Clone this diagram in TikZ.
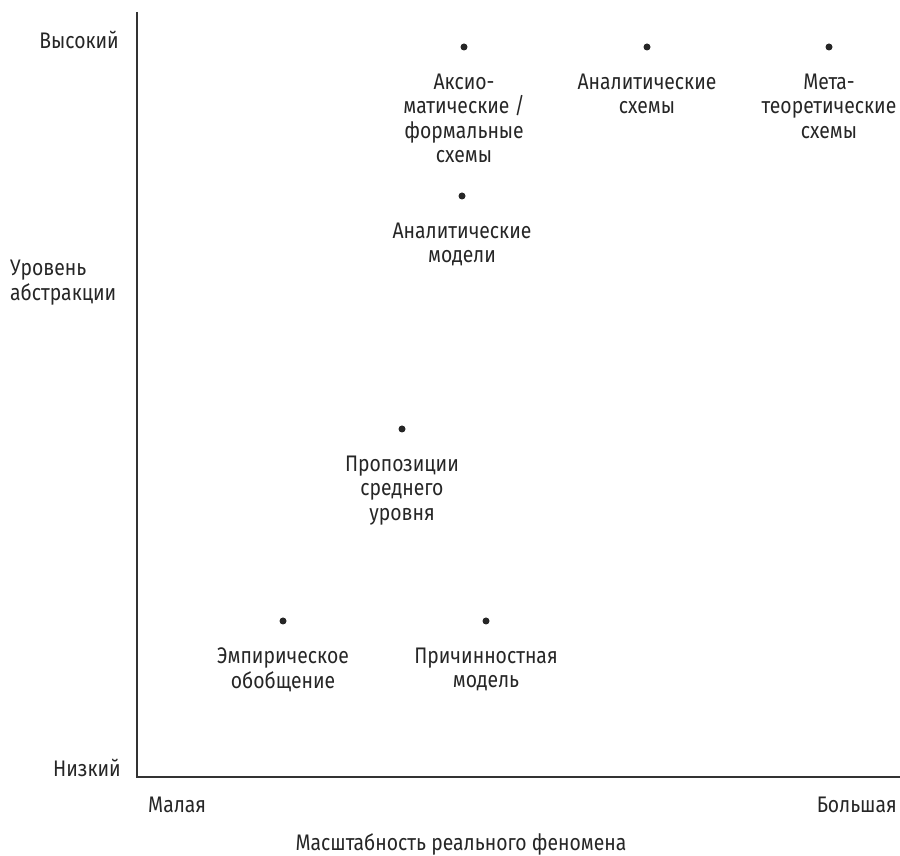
\documentclass[tikz,border=0pt]{standalone}
\usepackage{fontspec}
\setmainfont[FakeStretch=0.86]{Fira Sans}
\usetikzlibrary{positioning}

\begin{document}
\begin{tikzpicture}[
            x=1pt, y=1pt,
            node distance=23pt,
            dot/.style={circle, fill=black!85, minimum size=7pt, inner sep=0pt},
            lbl/.style={align=center, inner sep=0pt, text=black!85,
                font=\fontsize{22.5}{24.5}\selectfont},
            axis/.style={line width=1.5pt, draw=black!80}
        ]
            \useasboundingbox (0,0) rectangle (900,856);

            % axes
            \coordinate (top) at (137,844);
            \coordinate (xend) at (900,79);
            \draw[axis] (top) |- (xend);

            % axis labels
            \node[lbl, anchor=base east] (high) at (119,807) {Высокий};
            \node[lbl, anchor=north west, align=left] (level) at (10,596) {Уровень\\абстракции};
            \node[lbl, anchor=base east] (low) at (121,79) {Низкий};
            \node[lbl, anchor=base west] (small) at (148,43) {Малая};
            \node[lbl, anchor=base east] (big) at (897,43) {Большая};
            \node[lbl, anchor=base] (scale) at (461,5) {Масштабность реального феномена};

            % points
            \node[dot] (axiom) at (464,809) {};
            \node[dot] (aschem) at (647,809) {};
            \node[dot] (meta) at (829,809) {};
            \node[dot] (amodel) at (462,660) {};
            \node[dot] (prop) at (402,427) {};
            \node[dot] (emp) at (283,235) {};
            \node[dot] (cause) at (486,235) {};

            \node[lbl, below=of axiom] {Аксио-\\матические /\\формальные\\схемы};
            \node[lbl, below=of aschem] {Аналитические\\схемы};
            \node[lbl, below=of meta] {Мета-\\теоретические\\схемы};
            \node[lbl, below=of amodel] {Аналитические\\модели};
            \node[lbl, below=of prop] {Пропозиции\\среднего\\уровня};
            \node[lbl, below=of emp] {Эмпирическое\\обобщение};
            \node[lbl, below=of cause] {Причинностная\\модель};
        \end{tikzpicture}
\end{document}
